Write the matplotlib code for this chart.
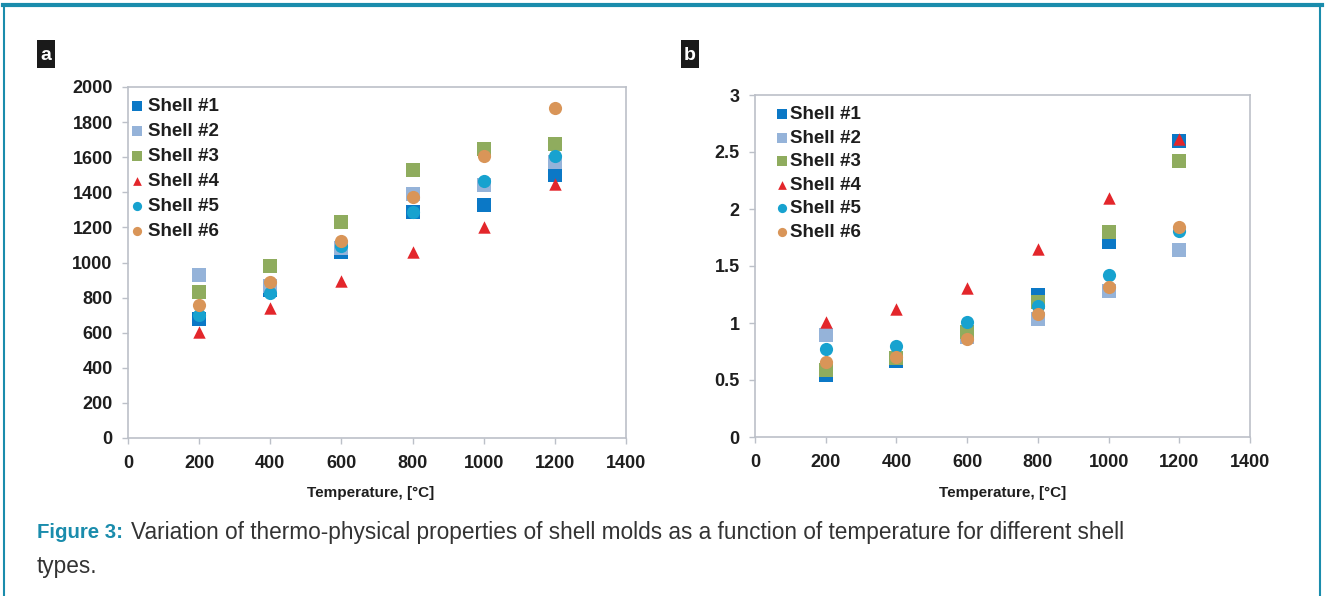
import matplotlib
matplotlib.use("Agg")
import matplotlib.pyplot as plt
from matplotlib.lines import Line2D
from matplotlib.patches import Rectangle

plt.rcParams['font.family'] = ['Liberation Sans', 'DejaVu Sans']

temps = [200, 400, 600, 800, 1000, 1200]
series_names = ["Shell #1", "Shell #2", "Shell #3", "Shell #4", "Shell #5", "Shell #6"]

a_shell1 = [680, 846, 1058, 1285, 1328, 1497]
a_shell2 = [931, 865, 1082, 1389, 1442, 1574]
a_shell3 = [833, 980, 1228, 1527, 1644, 1678]
a_shell4 = [605, 742, 893, 1060, 1200, 1447]
a_shell5 = [700, 827, 1092, 1290, 1464, 1606]
a_shell6 = [757, 889, 1120, 1376, 1606, 1879]

b_shell1 = [0.54, 0.67, 0.91, 1.246, 1.707, 2.597]
b_shell2 = [0.896, 0.69, 0.88, 1.033, 1.284, 1.64]
b_shell3 = [0.59, 0.69, 0.92, 1.18, 1.80, 2.42]
b_shell4 = [1.007, 1.123, 1.304, 1.649, 2.10, 2.615]
b_shell5 = [0.776, 0.80, 1.012, 1.153, 1.42, 1.81]
b_shell6 = [0.657, 0.706, 0.86, 1.077, 1.32, 1.844]

a_ticks = [0, 200, 400, 600, 800, 1000, 1200, 1400, 1600, 1800, 2000]
b_ticks = [0, 0.5, 1, 1.5, 2, 2.5, 3]
b_tick_labels = ["0", "0.5", "1", "1.5", "2", "2.5", "3"]
x_ticks = [0, 200, 400, 600, 800, 1000, 1200, 1400]

colors = ["#0b78c6", "#95b3d9", "#8fac5e", "#e3262b", "#17a2cf", "#d99558"]
markers = ["s", "s", "s", "^", "o", "o"]

W, H = 1325, 596
fig = plt.figure(figsize=(W / 100, H / 100), dpi=100)

teal = "#1a8cac"
# outer frame
fig.add_artist(Line2D([0.002, 0.998], [0.992, 0.992], color=teal, lw=3, transform=fig.transFigure))
fig.add_artist(Line2D([0.003, 0.003], [0.0, 0.992], color=teal, lw=1.5, transform=fig.transFigure))
fig.add_artist(Line2D([0.9965, 0.9965], [0.0, 0.992], color=teal, lw=1.5, transform=fig.transFigure))

def px_axes(left, right, top, bottom):
    return fig.add_axes([left / W, 1 - bottom / H, (right - left) / W, (bottom - top) / H])

ax_a = px_axes(128, 626, 87, 438)
ax_b = px_axes(755, 1250, 95, 437)

def style(ax, yticks, ylim, ylabels, label_xy):
    ax.set_xlim(0, 1400)
    ax.set_ylim(*ylim)
    ax.set_xticks(x_ticks)
    ax.set_yticks(yticks)
    ax.set_yticklabels(ylabels)
    for s in ax.spines.values():
        s.set_color("#bcc0c8")
        s.set_linewidth(1.2)
    ax.tick_params(axis='both', colors="#bcc0c8", labelcolor="#1e1e1e",
                   labelsize=13, length=4, width=1)
    ax.tick_params(axis='x', pad=8)
    ax.tick_params(axis='y', pad=7)
    for lbl in ax.get_xticklabels() + ax.get_yticklabels():
        lbl.set_fontweight('bold')
    ax.set_xlabel("Temperature, [°C]", fontsize=11, fontweight='bold', color="#1e1e1e")
    ax.xaxis.set_label_coords(*label_xy)

a_data = [a_shell1, a_shell2, a_shell3, a_shell4, a_shell5, a_shell6]
b_data = [b_shell1, b_shell2, b_shell3, b_shell4, b_shell5, b_shell6]

for ax, data in [(ax_a, a_data), (ax_b, b_data)]:
    for name, vals, c, m in zip(series_names, data, colors, markers):
        size = 90 if m != "^" else 80
        ax.scatter(temps, vals, s=size, marker=m, color=c, label=name, linewidths=0, zorder=3)

style(ax_a, a_ticks, (0, 2000), [str(t) for t in a_ticks], (0.488, -0.138))
style(ax_b, b_ticks, (0, 3), b_tick_labels, (0.50, -0.143))

for ax, anchor, tpad, lspace in [(ax_a, (0.0072, 0.9685), 0.28, 0.42),
                                 (ax_b, (0.0436, 0.967), 0.12, 0.34)]:
    leg = ax.legend(loc='upper left', bbox_to_anchor=anchor, frameon=False,
                    prop={'weight': 'bold', 'size': 13.5}, handletextpad=tpad,
                    labelspacing=lspace, markerscale=0.7, handlelength=0.6,
                    borderaxespad=0, borderpad=0)
    for t in leg.get_texts():
        t.set_color("#1e1e1e")

# panel letters
for x0, letter in [(37, "a"), (681, "b")]:
    fig.add_artist(Rectangle((x0 / W, 1 - 68 / H), 18 / W, 28 / H, transform=fig.transFigure,
                             facecolor="#1a1a1a", edgecolor='none'))
    fig.text((x0 + 9) / W, 1 - 55 / H, letter, fontsize=14, fontweight='bold', color='white',
             va='center', ha='center')

# caption
fig.text(37 / W, 1 - 533 / H, "Figure 3:", fontsize=14.7, fontweight='bold', color=teal, va='center', ha='left')
fig.text(131 / W, 1 - 533 / H, "Variation of thermo-physical properties of shell molds as a function of temperature for different shell",
         fontsize=16.3, color="#333333", va='center', ha='left')
fig.text(37 / W, 1 - 567 / H, "types.", fontsize=16.3, color="#333333", va='center', ha='left')

fig.savefig("out.png", dpi=100, facecolor='white')
